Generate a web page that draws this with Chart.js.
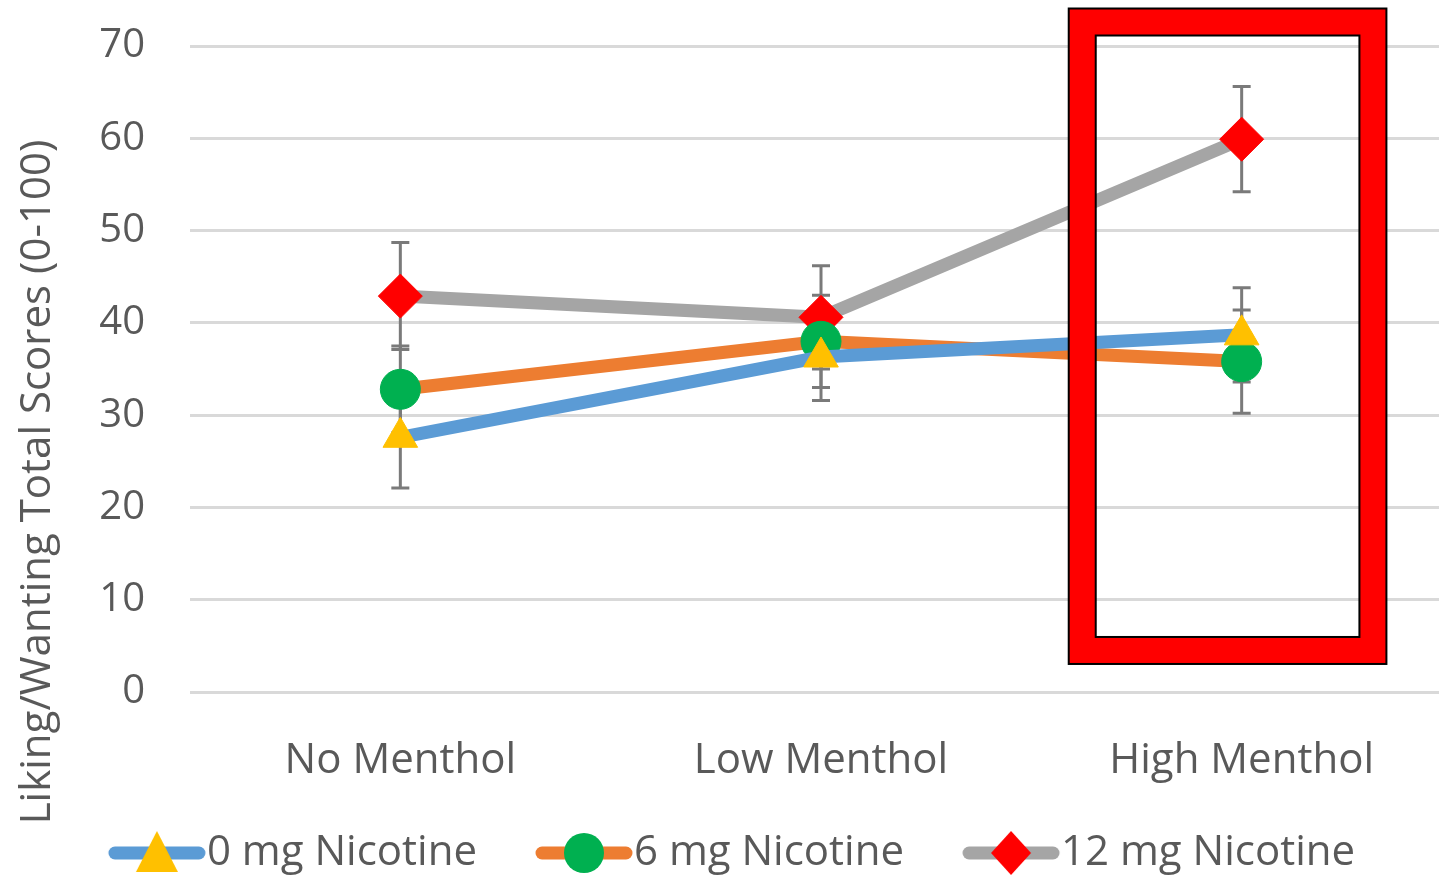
<!DOCTYPE html>
<html>
<head>
<meta charset="utf-8">
<script src="https://cdn.jsdelivr.net/npm/chart.js@4.4.1/dist/chart.umd.min.js"></script>
<style>
  html, body { margin: 0; padding: 0; background: #fff; overflow: hidden; }
  #wrap { position: relative; width: 1475px; height: 907px; margin-top: -23px; }
</style>
</head>
<body>
<div id="wrap"><canvas id="chart"></canvas></div>
<script>
var categories = ['No Menthol', 'Low Menthol', 'High Menthol'];
var seriesNames = ['0 mg Nicotine', '6 mg Nicotine', '12 mg Nicotine'];
var nic0 = [27.6, 36.3, 38.7];
var nic6 = [32.8, 38.0, 35.8];
var nic12 = [42.9, 40.6, 59.9];
var err0 = [5.5, 4.7, 5.1];
var err6 = [4.7, 5.0, 5.6];
var err12 = [5.8, 5.6, 5.7];
var yTicks = [0, 10, 20, 30, 40, 50, 60, 70];
var yTitle = 'Liking/Wanting Total Scores (0-100)';
var highlightCategory = 2;

var lineColors = ['#5b9bd5', '#ed7d31', '#a5a5a5'];
var markerColors = ['#ffc000', '#00b050', '#ff0000'];
var markerStyles = ['triangle', 'circle', 'rectRot'];
var textColor = '#595959';
var fontFamily = '"Open Sans", "Liberation Sans", sans-serif';
var legendBox = 106;

// legend symbol: thick line with the marker on top, sitting at the right end of the image
function legendSymbol(i) {
    var c = document.createElement('canvas');
    c.width = legendBox + 42; c.height = 46;
    var g = c.getContext('2d');
    g.translate(c.width - 100, 0);
    g.strokeStyle = lineColors[i];
    g.lineWidth = 13;
    g.lineCap = 'round';
    g.beginPath(); g.moveTo(8, 23); g.lineTo(92, 23); g.stroke();
    g.fillStyle = markerColors[i];
    g.beginPath();
    if (markerStyles[i] === 'triangle') {
        g.moveTo(50, 1); g.lineTo(71, 42); g.lineTo(29, 42); g.closePath();
    } else if (markerStyles[i] === 'circle') {
        g.arc(50, 23, 20, 0, Math.PI * 2);
    } else {
        g.moveTo(50, 1); g.lineTo(70, 23); g.lineTo(50, 45); g.lineTo(30, 23); g.closePath();
    }
    g.fill();
    return c;
}

var errorBars = {
    id: 'errorBars',
    beforeDatasetsDraw: function(chart) {
        var ctx = chart.ctx, ys = chart.scales.y;
        var errs = [err0, err6, err12];
        ctx.save();
        ctx.strokeStyle = '#7a7a7a';
        ctx.lineWidth = 3;
        chart.data.datasets.forEach(function(ds, i) {
            var meta = chart.getDatasetMeta(i);
            meta.data.forEach(function(pt, j) {
                var v = ds.data[j], e = errs[i][j];
                var top = ys.getPixelForValue(v + e), bot = ys.getPixelForValue(v - e);
                ctx.beginPath();
                ctx.moveTo(pt.x, top); ctx.lineTo(pt.x, bot);
                ctx.moveTo(pt.x - 9, top); ctx.lineTo(pt.x + 9, top);
                ctx.moveTo(pt.x - 9, bot); ctx.lineTo(pt.x + 9, bot);
                ctx.stroke();
            });
        });
        ctx.restore();
    }
};

var highlightBox = {
    id: 'highlightBox',
    afterDraw: function(chart) {
        var ctx = chart.ctx, xs = chart.scales.x, ys = chart.scales.y;
        var step = xs.getPixelForValue(1) - xs.getPixelForValue(0);
        var cx = xs.getPixelForValue(highlightCategory);
        var l = cx - 0.379 * step, r = cx + 0.312 * step;
        var t = ys.getPixelForValue(72.6), b = ys.getPixelForValue(4.5);
        ctx.save();
        ctx.lineJoin = 'miter';
        ctx.strokeStyle = '#000';
        ctx.lineWidth = 29;
        ctx.strokeRect(l, t, r - l, b - t);
        ctx.strokeStyle = '#ff0000';
        ctx.lineWidth = 25;
        ctx.strokeRect(l, t, r - l, b - t);
        ctx.restore();
    }
};

var yAxisTitle = {
    id: 'yAxisTitle',
    afterDraw: function(chart) {
        var ctx = chart.ctx;
        ctx.save();
        ctx.translate(38, 505);
        ctx.rotate(-Math.PI / 2);
        ctx.fillStyle = textColor;
        ctx.font = '42px ' + fontFamily;
        ctx.textAlign = 'center';
        ctx.textBaseline = 'middle';
        ctx.fillText(yTitle, 0, 0);
        ctx.restore();
    }
};

var values = [nic0, nic6, nic12];
new Chart(document.getElementById('chart'), {
    type: 'line',
    data: {
        labels: categories,
        datasets: values.map(function(d, i) {
            return {
                label: seriesNames[i],
                data: d,
                borderColor: lineColors[i],
                borderWidth: 13,
                pointStyle: markerStyles[i],
                pointRadius: markerStyles[i] === 'rectRot' ? 22 : 20,
                pointBackgroundColor: markerColors[i],
                pointBorderColor: markerColors[i],
                pointBorderWidth: 1,
                tension: 0
            };
        })
    },
    plugins: [errorBars, highlightBox, yAxisTitle],
    options: {
        responsive: true,
        maintainAspectRatio: false,
        animation: false,
        layout: { padding: { left: -40, right: 0, top: 5, bottom: 0 } },
        plugins: {
            tooltip: { enabled: false },
            legend: {
                position: 'bottom',
                labels: {
                    usePointStyle: true,
                    pointStyleWidth: legendBox,
                    padding: 30,
                    color: textColor,
                    font: { family: fontFamily, size: 42 },
                    generateLabels: function(chart) {
                        return seriesNames.map(function(n, i) {
                            return { text: n, pointStyle: legendSymbol(i), datasetIndex: i, fontColor: textColor, lineWidth: 0, strokeStyle: 'transparent', fillStyle: 'transparent' };
                        });
                    }
                }
            }
        },
        scales: {
            x: {
                offset: true,
                afterFit: function(s) { s.height = 110; },
                grid: { display: false, drawTicks: false },
                border: { display: false },
                ticks: { color: textColor, font: { family: fontFamily, size: 42 }, padding: 44 }
            },
            y: {
                min: 0,
                max: 70,
                afterFit: function(s) { s.width = 230; },
                afterBuildTicks: function(s) { s.ticks = yTicks.map(function(v) { return { value: v }; }); },
                grid: { color: '#d9d9d9', lineWidth: 3, drawTicks: false },
                border: { display: false },
                ticks: { color: textColor, font: { family: fontFamily, size: 40 }, padding: 45 }
            }
        }
    }
});
</script>
</body>
</html>
